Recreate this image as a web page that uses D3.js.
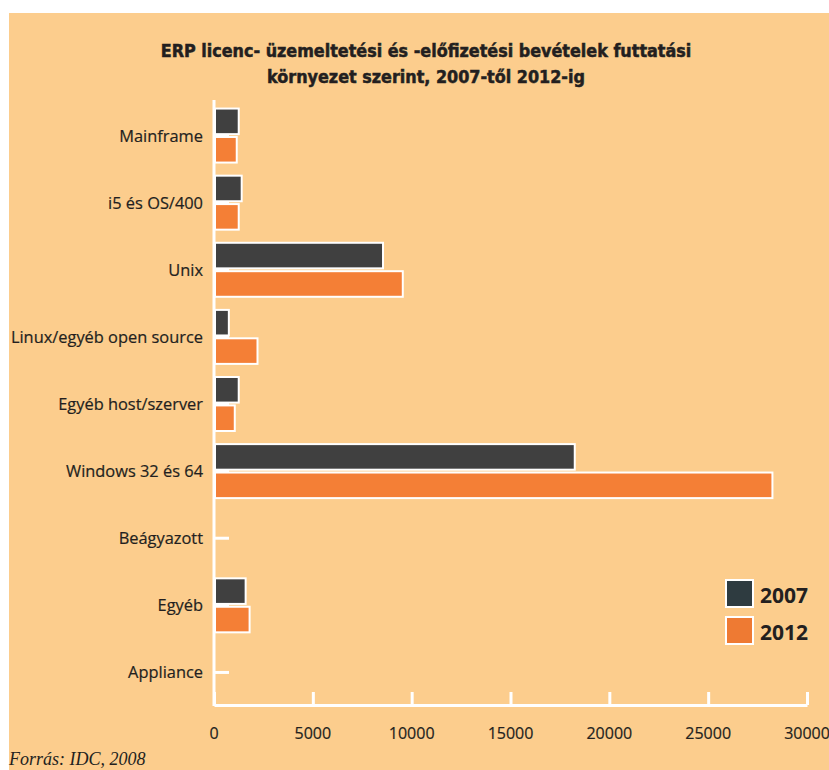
<!DOCTYPE html>
<html>
<head>
<meta charset="utf-8">
<script src="https://cdn.jsdelivr.net/npm/d3@7"></script>
<style>
  body { margin: 0; background: #fff; }
  svg { display: block; }
</style>
</head>
<body>
<svg id="chart"></svg>
<script>
const categories = ['Mainframe', 'i5 és OS/400', 'Unix', 'Linux/egyéb open source',
  'Egyéb host/szerver', 'Windows 32 és 64', 'Beágyazott', 'Egyéb', 'Appliance'];
const series = ['2007', '2012'];
const values2007 = [1200, 1350, 8500, 700, 1200, 18200, 0, 1550, 0];
const values2012 = [1100, 1200, 9500, 2150, 1000, 28200, 0, 1750, 0];
const xTicks = [0, 5000, 10000, 15000, 20000, 25000, 30000];

const W = 829, H = 770;
const colors = {'2007': '#404040', '2012': '#f47f36'};
const legendColors = {'2007': '#2e3b40', '2012': '#ee7a33'};
const ink = '#231f20';

const svg = d3.select('#chart').attr('width', W).attr('height', H);

svg.append('rect')
  .attr('x', 9).attr('y', 13)
  .attr('width', W - 9).attr('height', H - 13)
  .attr('fill', '#fccd8d');

// title
const title = svg.append('text')
  .attr('text-anchor', 'middle')
  .attr('font-family', 'DejaVu Sans Condensed, DejaVu Sans')
  .attr('font-weight', 'bold')
  .attr('font-size', 17.8)
  .attr('fill', ink)
  .attr('stroke', ink).attr('stroke-width', 0.5);
title.append('tspan').attr('x', 426).attr('y', 57)
  .text('ERP licenc- üzemeltetési és -előfizetési bevételek futtatási');
title.append('tspan').attr('x', 426).attr('y', 83)
  .text('környezet szerint, 2007-től 2012-ig');

const x = d3.scaleLinear().domain([0, 30000]).range([214, 807]);
const y = d3.scaleBand().domain(categories).range([102, 706]);
const ys = d3.scaleBand().domain(series).range([-27, 27]).paddingInner(0.1);

const rows = categories.map((c, i) => ({cat: c, '2007': values2007[i], '2012': values2012[i]}));

// y axis ticks (inside, white)
const yAxisG = svg.append('g').attr('transform', 'translate(214,0)');
yAxisG.call(d3.axisRight(y).tickSize(15).tickFormat(''));
yAxisG.select('.domain').remove();
yAxisG.selectAll('line').attr('stroke', '#fff').attr('stroke-width', 3);

// bars
const groups = svg.append('g').selectAll('g')
  .data(rows).join('g')
  .attr('transform', d => `translate(0,${y(d.cat) + y.bandwidth() / 2})`);

groups.selectAll('rect')
  .data(d => series.map(s => ({s, v: d[s]})).filter(e => e.v > 0))
  .join('rect')
  .attr('x', x(0) + 1)
  .attr('y', e => ys(e.s))
  .attr('width', e => x(e.v) - x(0))
  .attr('height', ys.bandwidth())
  .attr('fill', e => colors[e.s])
  .attr('stroke', '#fff')
  .attr('stroke-width', 2);

// category labels
svg.append('g').selectAll('text')
  .data(categories).join('text')
  .attr('x', 203)
  .attr('y', d => y(d) + y.bandwidth() / 2 + 6)
  .attr('text-anchor', 'end')
  .attr('font-family', 'Open Sans, sans-serif')
  .attr('font-size', 16.4)
  .attr('fill', ink)
  .attr('stroke', ink).attr('stroke-width', 0.2)
  .text(d => d);

// axis lines
svg.append('line')
  .attr('x1', 214).attr('x2', 214).attr('y1', 100).attr('y2', 706)
  .attr('stroke', '#fff').attr('stroke-width', 3);

const xAxisG = svg.append('g').attr('transform', 'translate(0,705)');
xAxisG.call(d3.axisTop(x).tickValues(xTicks).tickSize(13).tickFormat('').tickSizeOuter(0));
xAxisG.select('.domain').attr('stroke', '#fff').attr('stroke-width', 3);
xAxisG.selectAll('line').attr('stroke', '#fff').attr('stroke-width', 3);

svg.append('g').selectAll('text')
  .data(xTicks).join('text')
  .attr('x', d => x(d))
  .attr('y', 739)
  .attr('text-anchor', 'middle')
  .attr('font-family', 'Open Sans, sans-serif')
  .attr('font-size', 16)
  .attr('fill', ink)
  .attr('stroke', ink).attr('stroke-width', 0.2)
  .text(d => d);

// source
svg.append('text')
  .attr('x', 9).attr('y', 765)
  .attr('font-family', 'Liberation Serif, serif')
  .attr('font-style', 'italic')
  .attr('font-size', 18)
  .attr('fill', ink)
  .text('Forrás: IDC, 2008');

// legend
const legend = svg.append('g').selectAll('g')
  .data(series).join('g')
  .attr('transform', (d, i) => `translate(726,${580 + i * 37})`);
legend.append('rect')
  .attr('width', 27).attr('height', 27)
  .attr('fill', d => legendColors[d])
  .attr('stroke', '#fff').attr('stroke-width', 2);
legend.append('text')
  .attr('x', 34).attr('y', 23)
  .attr('font-family', 'Open Sans, sans-serif')
  .attr('font-weight', 'bold')
  .attr('font-size', 21)
  .attr('fill', ink)
  .text(d => d);
</script>
</body>
</html>
